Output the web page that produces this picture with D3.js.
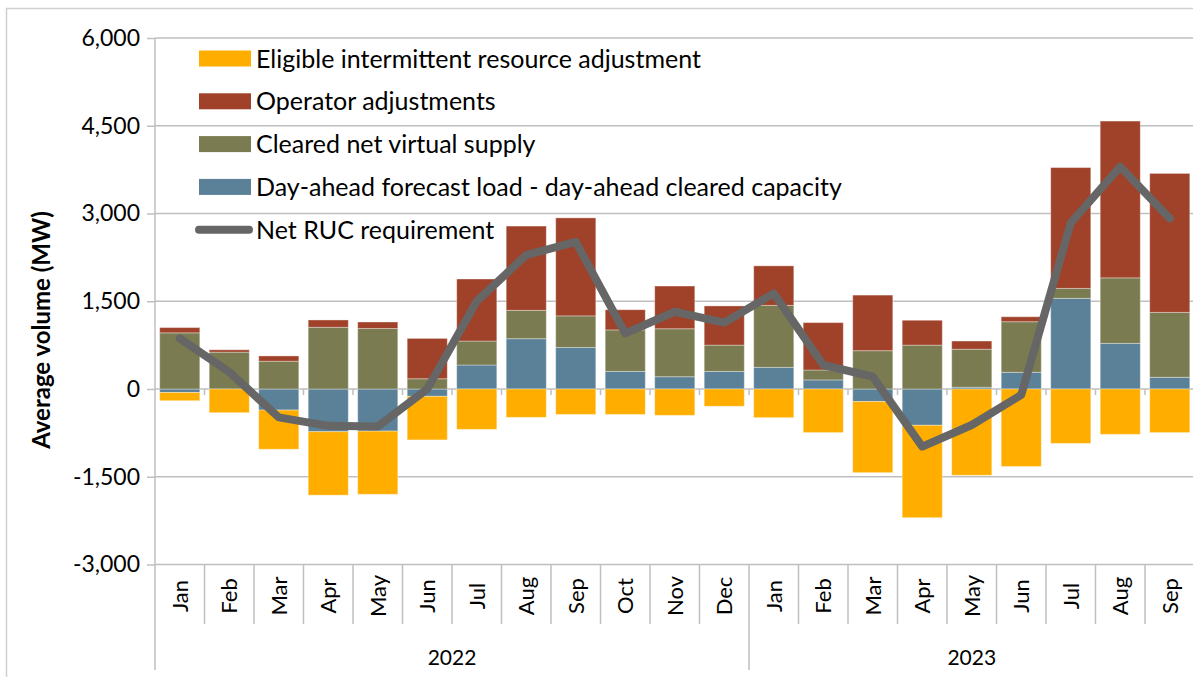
<!DOCTYPE html>
<html>
<head>
<meta charset="utf-8">
<script src="https://cdn.jsdelivr.net/npm/d3@7"></script>
<style>
  body { margin: 0; background: #fff; }
  svg { font-family: Lato, "Open Sans", sans-serif; }
</style>
</head>
<body>
<svg id="chart" width="1193" height="677"></svg>
<script>
// months on the category axis, with year groups below
var months = ["Jan","Feb","Mar","Apr","May","Jun","Jul","Aug","Sep","Oct","Nov","Dec",
              "Jan","Feb","Mar","Apr","May","Jun","Jul","Aug","Sep"];
var years = ["2022", "2023"];
var yearCounts = [12, 9];

// series values (MW)
var dayAhead = [-60, 0, -360, -730, -720, -125, 410, 860, 710, 300, 210, 300,
                370, 155, -215, -620, 30, 285, 1550, 780, 200];
var virtualSupply = [960, 630, 475, 1055, 1035, 175, 410, 485, 540, 710, 820, 450,
                     1060, 170, 655, 750, 650, 865, 170, 1120, 1110];
var operatorAdj = [90, 40, 90, 125, 110, 690, 1060, 1440, 1675, 345, 730, 670,
                   675, 810, 950, 425, 140, 85, 2065, 2680, 2375];
var eligibleAdj = [-140, -405, -670, -1085, -1080, -745, -690, -485, -435, -435, -450, -295,
                   -490, -745, -1215, -1580, -1475, -1325, -930, -775, -745];
var netRUC = [865, 290, -485, -630, -640, 0, 1500, 2290, 2515, 950, 1320, 1135,
              1635, 410, 210, -985, -615, -100, 2840, 3800, 2915];

var yTicks = [-3000, -1500, 0, 1500, 3000, 4500, 6000];

var keys = ["dayAhead", "virtualSupply", "operatorAdj", "eligibleAdj"];
var colors = {
    dayAhead: "#5a8197",
    virtualSupply: "#7b7b51",
    operatorAdj: "#a04129",
    eligibleAdj: "#ffae00"
};
var legendItems = [
    {key: "eligibleAdj", label: "Eligible intermittent resource adjustment"},
    {key: "operatorAdj", label: "Operator adjustments"},
    {key: "virtualSupply", label: "Cleared net virtual supply"},
    {key: "dayAhead", label: "Day-ahead forecast load - day-ahead cleared capacity"},
    {key: "line", label: "Net RUC requirement"}
];

var rows = months.map(function (m, i) {
    return {i: i, dayAhead: dayAhead[i], virtualSupply: virtualSupply[i],
            operatorAdj: operatorAdj[i], eligibleAdj: eligibleAdj[i]};
});

var svg = d3.select("#chart");
var plotL = 155, plotR = 1194.5, plotT = 38, plotB = 564.5;

// outer chart frame
svg.append("rect").attr("x", 6.5).attr("y", 8.5).attr("width", 1250).attr("height", 720)
    .attr("fill", "none").attr("stroke", "#d0d0d0").attr("stroke-width", 1.5);

var x = d3.scaleBand().domain(d3.range(months.length))
    .range([plotL, plotR]).paddingInner(0.19).paddingOuter(0.095);
var y = d3.scaleLinear().domain([-3000, 6000]).range([plotB, plotT]);

// gridlines
svg.append("g").selectAll("line").data(yTicks).join("line")
    .attr("x1", plotL).attr("x2", plotR)
    .attr("y1", function (d) { return y(d); })
    .attr("y2", function (d) { return y(d); })
    .attr("stroke", "#bfbfbf").attr("stroke-width", 1.5);

// y axis (plain hyphen for negatives, like the original)
var fmt = d3.format(",");
var yAxis = svg.append("g").attr("transform", "translate(" + plotL + ",0)")
    .call(d3.axisLeft(y).tickValues(yTicks).tickSize(8).tickPadding(7)
        .tickFormat(function (d) { return fmt(d).replace("\u2212", "-"); }));
yAxis.select(".domain").remove();
yAxis.selectAll(".tick line").attr("stroke", "#bfbfbf").attr("stroke-width", 1.5);
yAxis.selectAll(".tick text").attr("font-size", 23).attr("fill", "#000")
    .attr("font-family", "Lato");
svg.append("line").attr("x1", plotL).attr("x2", plotL).attr("y1", plotT).attr("y2", 670)
    .attr("stroke", "#bfbfbf").attr("stroke-width", 1.5);

svg.append("text")
    .attr("transform", "translate(50,330) rotate(-90)")
    .attr("text-anchor", "middle").attr("font-size", 24).attr("font-weight", "bold")
    .text("Average volume (MW)");

// stacked bars
var stack = d3.stack().keys(keys).offset(d3.stackOffsetDiverging);
var series = stack(rows);

svg.append("g").selectAll("g").data(series).join("g")
    .attr("fill", function (s) { return colors[s.key]; })
    .selectAll("rect").data(function (s) { return s; }).join("rect")
    .attr("x", function (d) { return x(d.data.i); })
    .attr("width", x.bandwidth())
    .attr("y", function (d) { return y(Math.max(d[0], d[1])); })
    .attr("height", function (d) { return Math.abs(y(d[0]) - y(d[1])); })
    .attr("stroke", "#fff").attr("stroke-opacity", 0.35).attr("stroke-width", 1);

// zero line ticks at category boundaries
var bounds = d3.range(months.length + 1).map(function (i) { return plotL + i * x.step(); });
svg.append("g").selectAll("line").data(bounds.slice(1, -1)).join("line")
    .attr("x1", function (d) { return d; }).attr("x2", function (d) { return d; })
    .attr("y1", y(0)).attr("y2", y(0) + 6)
    .attr("stroke", "#bfbfbf").attr("stroke-width", 1.5);

// net RUC line
var line = d3.line()
    .x(function (d, i) { return x(i) + x.bandwidth() / 2; })
    .y(function (d) { return y(d); });
svg.append("path").datum(netRUC).attr("d", line)
    .attr("fill", "none").attr("stroke", "#666666").attr("stroke-width", 8)
    .attr("stroke-linejoin", "round").attr("stroke-linecap", "round");

// category axis: month separators, labels, year groups
svg.append("g").selectAll("line").data(bounds.slice(1)).join("line")
    .attr("x1", function (d) { return d; }).attr("x2", function (d) { return d; })
    .attr("y1", plotB).attr("y2", function (d, i) { return (i + 1) === 12 ? 670 : 624; })
    .attr("stroke", "#bfbfbf").attr("stroke-width", 1.5);

svg.append("g").selectAll("text").data(months).join("text")
    .attr("transform", function (d, i) {
        return "translate(" + (x(i) + x.bandwidth() / 2 + 8) + ",596) rotate(-90)";
    })
    .attr("text-anchor", "middle").attr("font-size", 22)
    .text(function (d) { return d; });

var start = 0;
years.forEach(function (yr, k) {
    var x0 = plotL + start * x.step();
    var x1 = plotL + (start + yearCounts[k]) * x.step();
    svg.append("text").attr("x", (x0 + x1) / 2).attr("y", 665)
        .attr("text-anchor", "middle").attr("font-size", 21).text(yr);
    start += yearCounts[k];
});

// legend
var legend = svg.append("g");
legendItems.forEach(function (item, i) {
    var cy = 58.5 + i * 42.8;
    if (item.key === "line") {
        legend.append("line").attr("x1", 199).attr("x2", 249).attr("y1", cy).attr("y2", cy)
            .attr("stroke", "#666666").attr("stroke-width", 8).attr("stroke-linecap", "round");
    } else {
        legend.append("rect").attr("x", 199).attr("y", cy - 8).attr("width", 52).attr("height", 16)
            .attr("fill", colors[item.key]);
    }
    legend.append("text").attr("x", 256).attr("y", cy + 9)
        .attr("font-size", 25).text(item.label);
});
</script>
</body>
</html>
